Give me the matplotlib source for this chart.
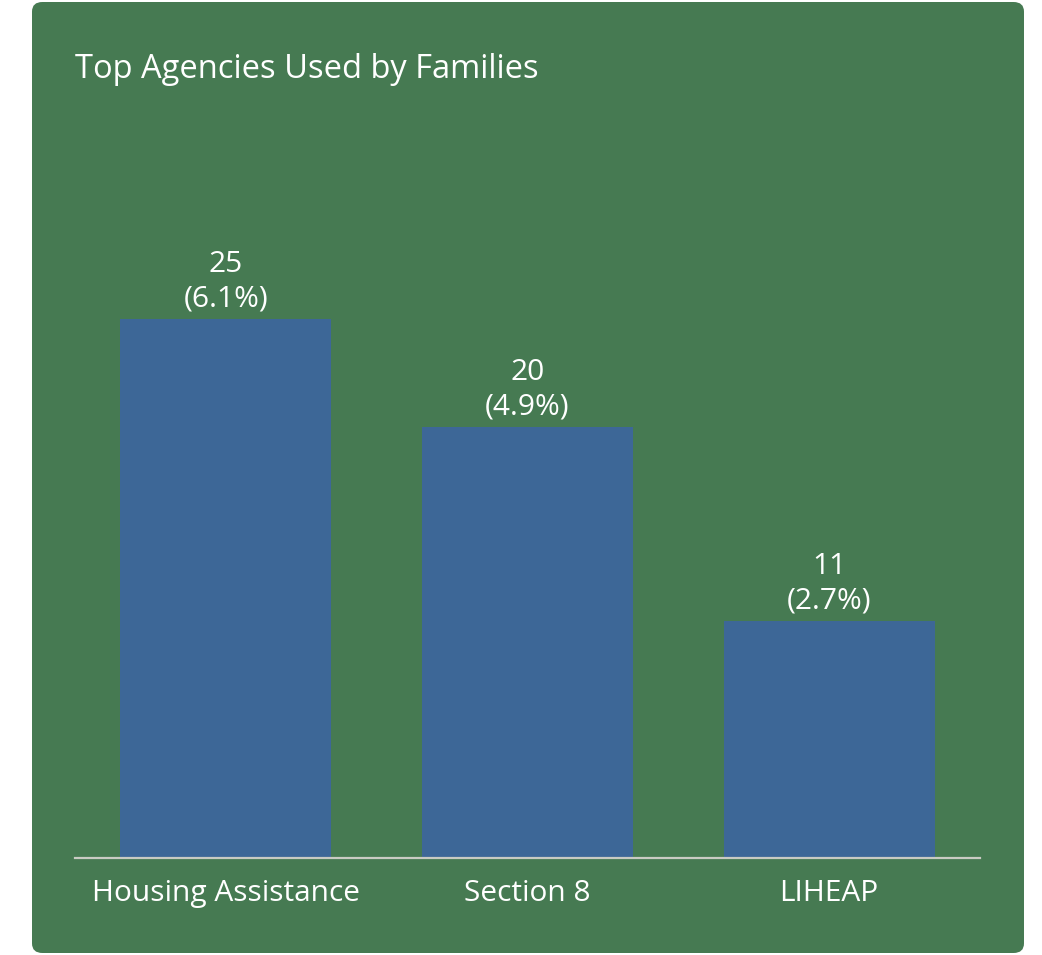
import matplotlib.pyplot as plt
from matplotlib.patches import FancyBboxPatch

# data
categories = ['Housing Assistance', 'Section 8', 'LIHEAP']
counts = [25, 20, 11]
percents = [6.1, 4.9, 2.7]

card_color = '#467a52'
bar_color = '#3d6797'
text_color = '#ffffff'
line_color = '#c9cbc3'

plt.rcParams['font.family'] = ['Open Sans', 'DejaVu Sans']

W, H = 1042, 955
fig = plt.figure(figsize=(W / 100, H / 100), dpi=100)
fig.patch.set_facecolor('white')

# green card behind everything
card = FancyBboxPatch((32 / W, 2 / H), (1024 - 32) / W, (953 - 2) / H,
                      boxstyle='round,pad=0,rounding_size=0.010',
                      transform=fig.transFigure, facecolor=card_color,
                      edgecolor='none', zorder=-5)
fig.patches.append(card)

fig.text(75 / W, 1 - 69 / H, 'Top Agencies Used by Families', color=text_color,
         fontsize=23.5, ha='left', va='center')

ax = fig.add_axes([75 / W, (H - 858) / H, 905 / W, 646.5 / H])
ax.patch.set_alpha(0)

x = range(len(categories))
bars = ax.bar(x, counts, width=0.7, color=bar_color, zorder=2)
ax.set_xlim(-0.5, 2.5)
ax.set_ylim(0, 30)

for b, c, p in zip(bars, counts, percents):
    ax.annotate(f'{c}\n({p}%)', (b.get_x() + b.get_width() / 2, b.get_height()),
                xytext=(0, 4), textcoords='offset points', ha='center', va='bottom',
                color=text_color, fontsize=21.5, linespacing=1.25)

ax.set_xticks(list(x))
ax.set_xticklabels(categories, color=text_color, fontsize=21.5)
ax.tick_params(axis='x', length=0, pad=15)
ax.set_yticks([])
for s in ['top', 'right', 'left']:
    ax.spines[s].set_visible(False)
ax.spines['bottom'].set_color(line_color)
ax.spines['bottom'].set_linewidth(1.6)
ax.spines['bottom'].set_zorder(3)

fig.savefig('out.png', dpi=100, facecolor=fig.get_facecolor())
